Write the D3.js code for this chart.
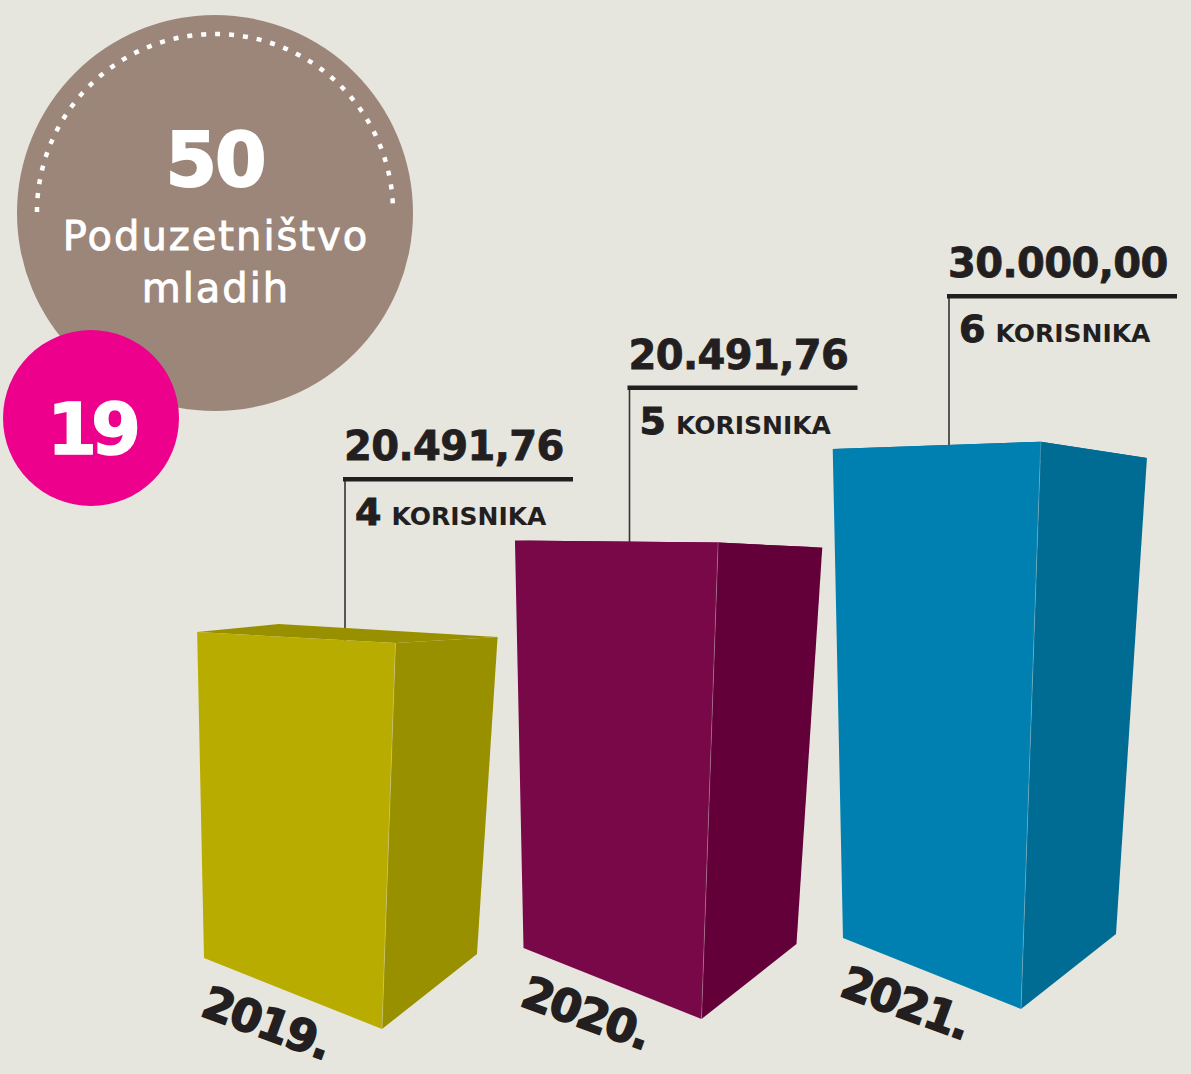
<!DOCTYPE html>
<html>
<head>
<meta charset="utf-8">
<script src="https://cdn.jsdelivr.net/npm/d3@7"></script>
<style>
  html, body { margin: 0; padding: 0; background: #e7e6de; }
  svg { display: block; }
</style>
</head>
<body>
<script>
// chart data
const years = ["2019.", "2020.", "2021."];
const amounts = [20491.76, 20491.76, 30000.00];
const users = [4, 5, 6];
const usersLabel = "KORISNIKA";
const badgeNumber = "50";
const badgeTitle = ["Poduzetništvo", "mladih"];
const pageNumber = "19";

const frontColors = ["#b8ac00", "#780848", "#0080b0"];
const sideColors = ["#999000", "#63003a", "#006b93"];

const width = 1191;
const height = 1074;
const ink = "#231f20";
const font = "'DejaVu Sans', sans-serif";

// croatian number format: 20.491,76
const hr = d3.formatLocale({ decimal: ",", thousands: ".", grouping: [3], currency: ["", ""] });
const fmt = hr.format(",.2f");

const svg = d3.select("body").append("svg")
  .attr("width", width)
  .attr("height", height);

svg.append("rect")
  .attr("width", width)
  .attr("height", height)
  .attr("fill", "#e7e6de");

// scales
const x = d3.scalePoint().domain(years).range([204, 843]);
const h = d3.scaleLinear().domain([0, 6]).range([0, 489]);
const ground = d3.scaleLinear().domain([204, 843]).range([958, 938]);

// line intersection helper
let meet = (p, d, q, e) => {
  let den = d[0] * e[1] - d[1] * e[0];
  let t = ((q[0] - p[0]) * e[1] - (q[1] - p[1]) * e[0]) / den;
  return [p[0] + t * d[0], p[1] + t * d[1]];
};

// fake perspective box, anchored at front-bottom-left corner
let box = (x0, y0, hh) => {
  let FBL = [x0, y0];
  let FBR = [x0 + 178, y0 + 71];
  let SBR = [x0 + 273, y0 - 4];
  let FTL = [x0 - 0.021 * hh, y0 - hh];
  let sf = (426 - hh) * 0.000555;   // front top edge slope
  let ss = (hh - 371) * 0.0013;     // side top edge slope
  let FTR = meet(FTL, [1, sf], FBR, [0.035, -1]);
  let STR = meet(FTR, [1, ss], SBR, [0.065, -1]);
  let BTL = [FTL[0] + 0.8 * (STR[0] - FTR[0]), FTL[1] + STR[1] - FTR[1] - 2];
  return {
    top: [FTL, FTR, STR, BTL],
    front: [FTL, FTR, FBR, FBL],
    side: [FTR, STR, SBR, FBR],
    seam: [FTR, FBR],
    FTL, sf
  };
};

const bars = years.map((y, i) => {
  let x0 = x(y);
  let y0 = ground(x0);
  let b = box(x0, y0, h(users[i]));
  b.i = i;
  b.x0 = x0;
  b.y0 = y0;
  b.lx = x0 + 106 + (i === 0 ? 35 : 0);
  b.ry = b.FTL[1] - 153;
  return b;
});

let line = d3.line();

// leaders and labels (drawn first so the bars cover the leader ends)
const lab = svg.append("g").attr("class", "labels");

lab.selectAll("line.leader")
  .data(bars)
  .join("line")
  .attr("class", "leader")
  .attr("x1", (d) => d.lx)
  .attr("x2", (d) => d.lx)
  .attr("y1", (d) => d.ry)
  .attr("y2", (d) => d.FTL[1] + d.sf * (d.lx - d.FTL[0]) + 2)
  .attr("stroke", "#333")
  .attr("stroke-width", 1.6);

lab.selectAll("rect.rule")
  .data(bars)
  .join("rect")
  .attr("class", "rule")
  .attr("x", (d) => d.lx - 2)
  .attr("y", (d) => d.ry - 2)
  .attr("width", 230)
  .attr("height", 4.5)
  .attr("fill", ink);

lab.selectAll("text.amount")
  .data(bars)
  .join("text")
  .attr("class", "amount")
  .attr("x", (d) => d.lx - 1)
  .attr("y", (d) => d.ry - 19)
  .attr("fill", ink)
  .attr("stroke", ink)
  .attr("stroke-width", 0.8)
  .style("font-family", font)
  .style("font-weight", "bold")
  .style("font-size", "40px")
  .style("letter-spacing", "-0.6px")
  .text((d) => fmt(amounts[d.i]));

let ut = lab.selectAll("text.users")
  .data(bars)
  .join("text")
  .attr("class", "users")
  .attr("x", (d) => d.lx + 10)
  .attr("y", (d) => d.ry + 46)
  .attr("fill", ink)
  .style("font-family", font)
  .style("font-weight", "bold");

ut.append("tspan")
  .attr("stroke", ink)
  .attr("stroke-width", 1)
  .style("font-size", "38px")
  .text((d) => users[d.i]);

ut.append("tspan")
  .attr("dx", 10)
  .style("font-size", "25px")
  .text(usersLabel);

// bars
const g = svg.append("g").attr("class", "bars");

let bar = g.selectAll("g.bar")
  .data(bars)
  .join("g")
  .attr("class", "bar");

bar.append("path")
  .attr("d", (d) => line(d.top) + "Z")
  .attr("fill", (d) => sideColors[d.i]);

bar.append("path")
  .attr("d", (d) => line(d.front) + "Z")
  .attr("fill", (d) => frontColors[d.i]);

bar.append("path")
  .attr("d", (d) => line(d.side) + "Z")
  .attr("fill", (d) => sideColors[d.i]);

bar.append("path")
  .attr("d", (d) => line(d.seam))
  .attr("stroke", "rgba(255,255,255,0.3)")
  .attr("stroke-width", 0.8);

// year labels, tilted along the floor
bar.append("text")
  .attr("transform", (d) => `translate(${d.x0 - 5},${d.y0 + 57}) rotate(20)`)
  .attr("fill", ink)
  .attr("stroke", ink)
  .attr("stroke-width", 1.6)
  .style("font-family", font)
  .style("font-weight", "bold")
  .style("font-size", "45px")
  .style("letter-spacing", "-2px")
  .text((d) => years[d.i]);

// badge circle
const badge = svg.append("g").attr("class", "badge");
const cx = 215, cy = 213;

badge.append("circle")
  .attr("cx", cx)
  .attr("cy", cy)
  .attr("r", 198)
  .attr("fill", "#9c8679");

let arcR = 178;
let p = d3.path();
p.arc(cx, cy - 1, arcR, Math.PI, 2 * Math.PI);
let period = Math.PI * arcR / 40;
badge.append("path")
  .attr("d", p.toString())
  .attr("fill", "none")
  .attr("stroke", "#fff")
  .attr("stroke-width", 4.5)
  .attr("stroke-dasharray", `5 ${period - 5}`);

badge.append("text")
  .attr("x", cx)
  .attr("y", 186)
  .attr("text-anchor", "middle")
  .attr("fill", "#fff")
  .attr("stroke", "#fff")
  .attr("stroke-width", 2)
  .style("font-family", font)
  .style("font-weight", "bold")
  .style("font-size", "74px")
  .style("letter-spacing", "-2px")
  .text(badgeNumber);

badge.selectAll("text.title")
  .data(badgeTitle)
  .join("text")
  .attr("class", "title")
  .attr("x", cx + 1)
  .attr("y", (d, i) => 250 + i * 52)
  .attr("text-anchor", "middle")
  .attr("fill", "#fff")
  .attr("stroke", "#fff")
  .attr("stroke-width", 0.9)
  .style("font-family", font)
  .style("font-size", "40px")
  .style("letter-spacing", "2px")
  .text((d) => d);

// page number
svg.append("circle")
  .attr("cx", 91)
  .attr("cy", 418)
  .attr("r", 88)
  .attr("fill", "#ec008c");

svg.append("text")
  .attr("x", 91)
  .attr("y", 454)
  .attr("text-anchor", "middle")
  .attr("fill", "#fff")
  .attr("stroke", "#fff")
  .attr("stroke-width", 1.5)
  .style("font-family", font)
  .style("font-weight", "bold")
  .style("font-size", "72px")
  .style("letter-spacing", "-6px")
  .text(pageNumber);
</script>
</body>
</html>
